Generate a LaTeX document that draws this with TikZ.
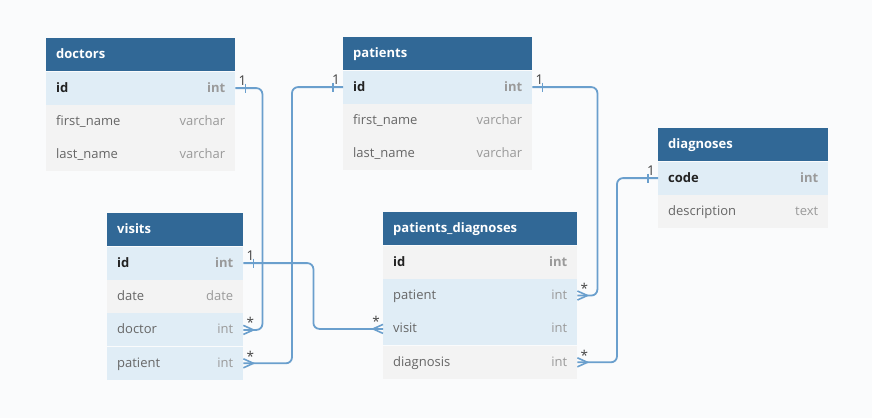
\documentclass[tikz,border=0pt]{standalone}
\usepackage{fontspec}
\setmainfont{Open Sans}
\usetikzlibrary{calc}
\definecolor{hdrc}{HTML}{316896}
\definecolor{keyc}{HTML}{E0EDF6}
\definecolor{plainc}{HTML}{F3F3F3}
\definecolor{bgc}{HTML}{FAFBFC}
\definecolor{linec}{HTML}{6A9FCD}
\definecolor{fieldc}{HTML}{666666}
\definecolor{typec}{HTML}{9A9A9A}
\definecolor{pkc}{HTML}{222222}
\definecolor{cardc}{HTML}{444444}
\tikzset{
 hdrbox/.style={fill=hdrc, draw=none, minimum height=33pt, inner sep=0pt, anchor=north west},
 keyrow/.style={fill=keyc, draw=none, minimum height=33pt, inner sep=0pt, anchor=north west},
 plainrow/.style={fill=plainc, draw=none, minimum height=33pt, inner sep=0pt, anchor=north west},
 titletext/.style={font=\fontsize{13}{15}\selectfont\bfseries, text=white, inner sep=0pt},
 fname/.style={font=\fontsize{13}{15}\selectfont, text=fieldc, inner sep=0pt},
 pkname/.style={font=\fontsize{13}{15}\selectfont\bfseries, text=pkc, inner sep=0pt},
 ftype/.style={font=\fontsize{13}{15}\selectfont, text=typec, inner sep=0pt},
 pktype/.style={font=\fontsize{13}{15}\selectfont\bfseries, text=typec, inner sep=0pt},
 conn/.style={draw=linec, line width=1.8pt, rounded corners=6pt},
 tipline/.style={draw=linec, line width=1.6pt},
 card/.style={font=\fontsize{13.5}{15}\selectfont, text=cardc, inner sep=0pt, anchor=base},
}
\newcommand\erhead[5]{%
 \node[hdrbox, minimum width=#4pt] (#1) at (#2pt,-#3pt) {};
 \node[titletext, anchor=base west] (#1-title) at ([xshift=10pt,yshift=-4pt]#1.west) {#5};
 \def\curw{#4}}
\newcommand\errow[8]{%
 \node[#4, minimum width=\curw pt] (#1-#3) at (#2.south west) {};
 \node[#5, anchor=base west] (#1-#3-n) at ([xshift=10pt,yshift=-4pt]#1-#3.west) {#6};
 \node[#7, anchor=base east] (#1-#3-t) at ([xshift=-10pt,yshift=-4pt]#1-#3.east) {#8};}
\newcommand\onetick[2]{\draw[tipline] ([xshift=#2*10pt, yshift=4.5pt]#1) -- ([xshift=#2*10pt,yshift=-4.5pt]#1);}
\newcommand\crow[2]{\draw[tipline] ([yshift=4.5pt]#1) -- ([xshift=#2*10pt]#1) -- ([yshift=-4.5pt]#1);}
\begin{document}
\begin{tikzpicture}
\fill[bgc] (0,0) rectangle (872pt,-418pt);
\useasboundingbox (0,0) rectangle (872pt,-418pt);
% doctors
\erhead{doc}{46}{38}{189}{doctors}
\errow{doc}{doc}{id}{keyrow}{pkname}{id}{pktype}{int}
\errow{doc}{doc-id}{first}{plainrow}{fname}{first\_name}{ftype}{varchar}
\errow{doc}{doc-first}{last}{plainrow}{fname}{last\_name}{ftype}{varchar}
% patients
\erhead{pat}{343}{37}{189}{patients}
\errow{pat}{pat}{id}{keyrow}{pkname}{id}{pktype}{int}
\errow{pat}{pat-id}{first}{plainrow}{fname}{first\_name}{ftype}{varchar}
\errow{pat}{pat-first}{last}{plainrow}{fname}{last\_name}{ftype}{varchar}
% visits
\erhead{vis}{107}{213}{136}{visits}
\errow{vis}{vis}{id}{keyrow}{pkname}{id}{pktype}{int}
\errow{vis}{vis-id}{date}{plainrow}{fname}{date}{ftype}{date}
\errow{vis}{vis-date}{doctor}{keyrow}{fname}{doctor}{ftype}{int}
\errow{vis}{vis-doctor}{patient}{keyrow}{fname}{patient}{ftype}{int}
% patients_diagnoses
\erhead{pd}{383}{212}{194}{patients\_diagnoses}
\errow{pd}{pd}{id}{plainrow}{pkname}{id}{pktype}{int}
\errow{pd}{pd-id}{patient}{keyrow}{fname}{patient}{ftype}{int}
\errow{pd}{pd-patient}{visit}{keyrow}{fname}{visit}{ftype}{int}
\errow{pd}{pd-visit}{diagnosis}{plainrow}{fname}{diagnosis}{ftype}{int}
% diagnoses
\erhead{dia}{658}{128}{170}{diagnoses}
\errow{dia}{dia}{code}{keyrow}{pkname}{code}{pktype}{int}
\errow{dia}{dia-code}{desc}{plainrow}{fname}{description}{ftype}{text}
% connectors
\draw[conn] (doc-id.east) -- ++(27pt,0) |- (vis-doctor.east);
\onetick{doc-id.east}{1}
\crow{vis-doctor.east}{1}
\node[card] (c1a) at ([xshift=7pt,yshift=3pt]doc-id.east) {1};
\node[card] (c1b) at ([xshift=7pt,yshift=2pt]vis-doctor.east) {*};
\draw[conn] (pat-id.west) -- ++(-51pt,0) |- (vis-patient.east);
\onetick{pat-id.west}{-1}
\crow{vis-patient.east}{1}
\node[card] (c2a) at ([xshift=-7pt,yshift=3pt]pat-id.west) {1};
\node[card] (c2b) at ([xshift=7pt,yshift=2pt]vis-patient.east) {*};
\draw[conn] (pat-id.east) -- ++(65pt,0) |- (pd-patient.east);
\onetick{pat-id.east}{1}
\crow{pd-patient.east}{1}
\node[card] (c3a) at ([xshift=7pt,yshift=3pt]pat-id.east) {1};
\node[card] (c3b) at ([xshift=7pt,yshift=2pt]pd-patient.east) {*};
\draw[conn] (vis-id.east) -- ++(70pt,0) |- (pd-visit.west);
\onetick{vis-id.east}{1}
\crow{pd-visit.west}{-1}
\node[card] (c4a) at ([xshift=7pt,yshift=3pt]vis-id.east) {1};
\node[card] (c4b) at ([xshift=-7pt,yshift=2pt]pd-visit.west) {*};
\draw[conn] (dia-code.west) -- ++(-41pt,0) |- (pd-diagnosis.east);
\onetick{dia-code.west}{-1}
\crow{pd-diagnosis.east}{1}
\node[card] (c5a) at ([xshift=-7pt,yshift=3pt]dia-code.west) {1};
\node[card] (c5b) at ([xshift=7pt,yshift=2pt]pd-diagnosis.east) {*};
\end{tikzpicture}
\end{document}
